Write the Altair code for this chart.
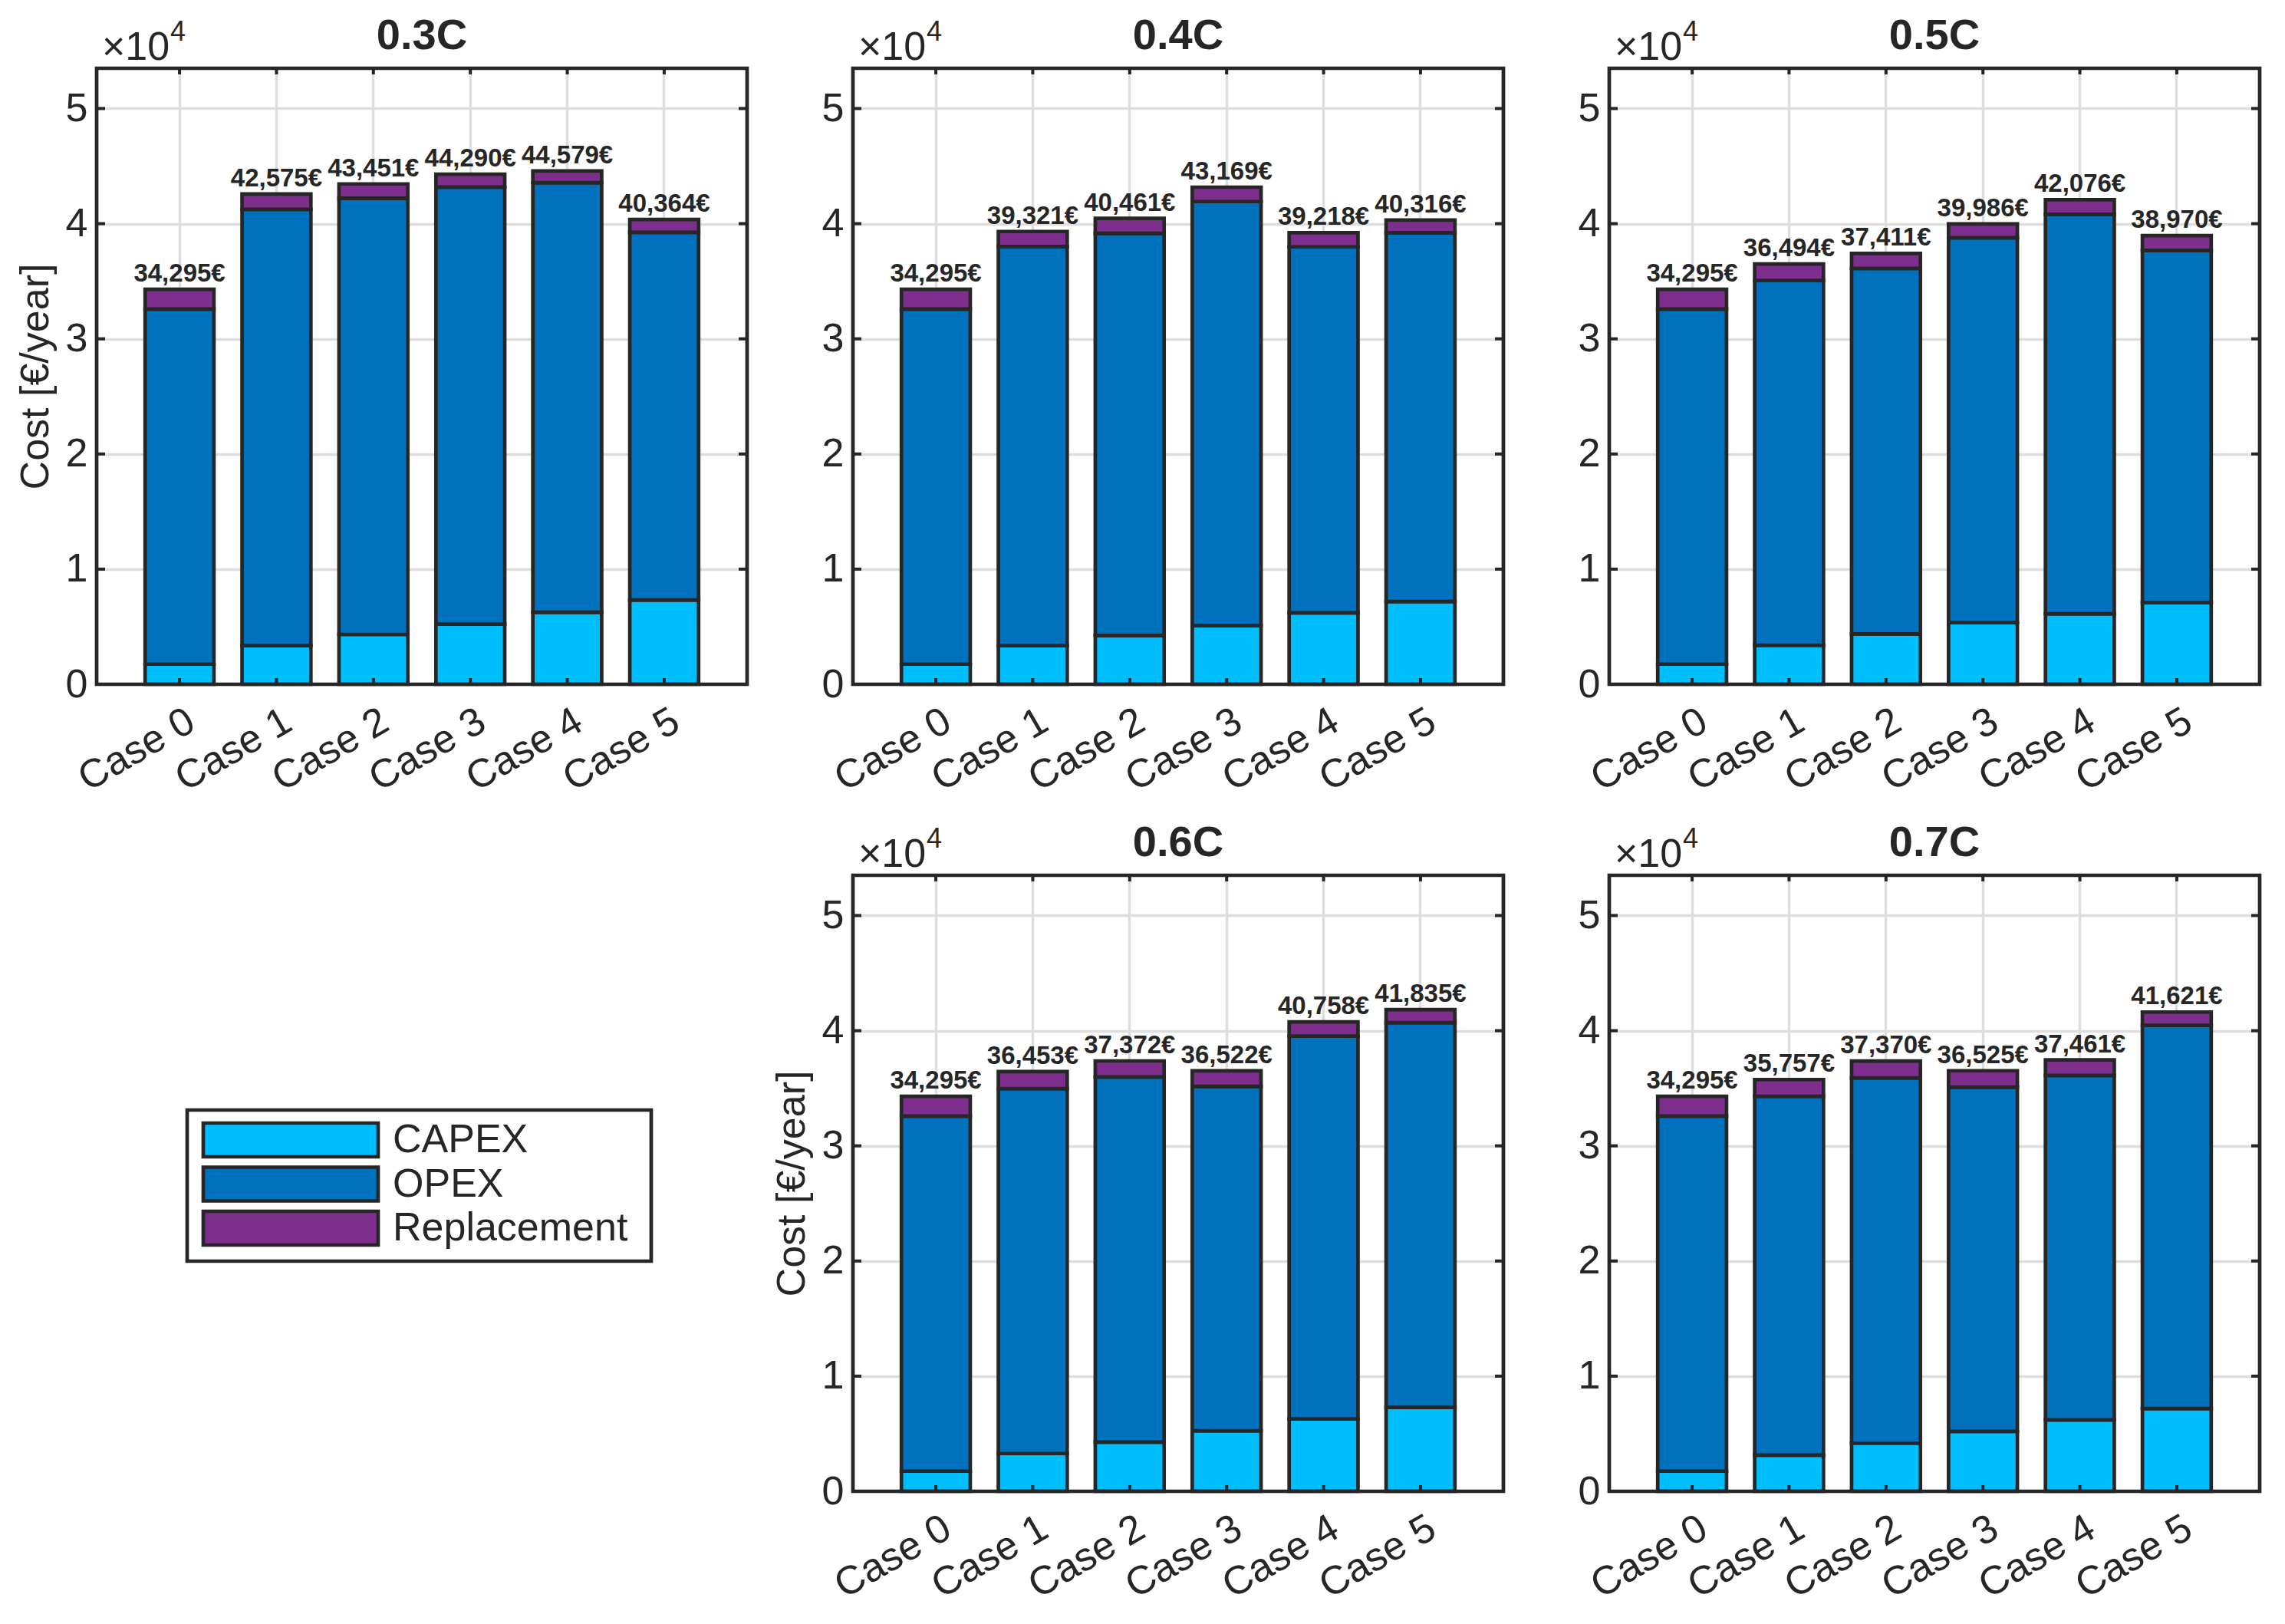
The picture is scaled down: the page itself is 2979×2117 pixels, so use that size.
import altair as alt
import pandas as pd

# ---------------- data ----------------
cases = ["Case 0", "Case 1", "Case 2", "Case 3", "Case 4", "Case 5"]
components = ["CAPEX", "OPEX", "Replacement"]
colors = ["#00BFFF", "#0072BD", "#7E2F8E"]
y_tick_values = [0, 10000, 20000, 30000, 40000, 50000]
y_max = 53495

titles = ["0.3C", "0.4C", "0.5C", "0.6C", "0.7C"]

capex_03 = [1750, 3350, 4330, 5220, 6250, 7320]
opex_03 = [30835, 37892, 37877, 37959, 37307, 31933]
repl_03 = [1710, 1333, 1244, 1111, 1022, 1111]
total_03 = [34295, 42575, 43451, 44290, 44579, 40364]

capex_04 = [1750, 3350, 4240, 5090, 6200, 7190]
opex_04 = [30835, 34671, 34921, 36829, 31788, 32026]
repl_04 = [1710, 1300, 1300, 1250, 1230, 1100]
total_04 = [34295, 39321, 40461, 43169, 39218, 40316]

capex_05 = [1750, 3390, 4375, 5360, 6120, 7100]
opex_05 = [30835, 31684, 31746, 33426, 34696, 30580]
repl_05 = [1710, 1420, 1290, 1200, 1260, 1290]
total_05 = [34295, 36494, 37411, 39986, 42076, 38970]

capex_06 = [1750, 3280, 4270, 5260, 6290, 7280]
opex_06 = [30835, 31693, 31712, 29912, 33238, 33415]
repl_06 = [1710, 1480, 1390, 1350, 1230, 1140]
total_06 = [34295, 36453, 37372, 36522, 40758, 41835]

capex_07 = [1750, 3140, 4180, 5210, 6200, 7190]
opex_07 = [30835, 31167, 31720, 29885, 29921, 33281]
repl_07 = [1710, 1450, 1470, 1430, 1340, 1150]
total_07 = [34295, 35757, 37370, 36525, 37461, 41621]

# ---------------- styling ----------------
W, H = 848, 803
FONT = "Liberation Sans"
DARK = "#262626"
GRID = "#DEDEDE"
EDGE = 4.7

x_scale = alt.Scale(domain=cases, paddingInner=0.29, paddingOuter=0.5)
y_scale = alt.Scale(domain=[0, y_max], nice=False, zero=True)
color_scale = alt.Scale(domain=components, range=colors)
no_view = alt.ViewBackground(strokeOpacity=0, strokeWidth=0)


def x_axis():
    return alt.Axis(title=None, labelAngle=330, labelFontSize=52, labelFont=FONT,
                    labelColor=DARK, labelAlign="right", labelBaseline="top",
                    labelPadding=22, labelOffset=3, ticks=False, domain=False,
                    grid=True, gridColor=GRID, gridWidth=3.5)


def y_axis(show_title):
    kw = dict(values=y_tick_values, labelExpr="datum.value / 10000", labelFontSize=52,
              labelFont=FONT, labelColor=DARK, labelPadding=12, ticks=False,
              domain=False, grid=True, gridColor=GRID, gridWidth=3.5)
    if show_title:
        kw.update(title="Cost [€/year]", titleFontSize=52, titleFont=FONT,
                  titleFontWeight="normal", titleColor=DARK, titlePadding=12)
    else:
        kw.update(title=None)
    return alt.Axis(**kw)


def make_panel(title, capex, opex, repl, total, show_title):
    rows = []
    for i, c in enumerate(cases):
        for k, (comp, vals) in enumerate(zip(components, [capex, opex, repl])):
            rows.append({"Case": c, "Component": comp, "Value": vals[i], "ord": k})
    df = pd.DataFrame(rows)
    df_tot = pd.DataFrame({"Case": cases, "Total": total,
                           "Label": [f"{v:,}€" for v in total]})
    df_yt = pd.DataFrame({"v": y_tick_values})
    df_x = pd.DataFrame({"Case": cases})
    df_one = pd.DataFrame({"t": ["×10"], "s": ["4"], "title": [title]})

    X = alt.X("Case:N", sort=cases, scale=x_scale, axis=x_axis())
    ya = y_axis(show_title)

    bars = alt.Chart(df).mark_bar(stroke=DARK, strokeWidth=EDGE).encode(
        x=X,
        y=alt.Y("Value:Q", stack="zero", scale=y_scale, axis=ya),
        color=alt.Color("Component:N", scale=color_scale, legend=None),
        order=alt.Order("ord:Q"),
    )
    yt_left = alt.Chart(df_yt).mark_rule(color=DARK, strokeWidth=4).encode(
        y=alt.Y("v:Q", scale=y_scale, axis=ya), x=alt.value(0), x2=alt.value(11))
    yt_right = alt.Chart(df_yt).mark_rule(color=DARK, strokeWidth=4).encode(
        y=alt.Y("v:Q", scale=y_scale, axis=ya), x=alt.value(W - 11), x2=alt.value(W))
    xt_bot = alt.Chart(df_x).mark_rule(color=DARK, strokeWidth=4).encode(
        x=X, y=alt.value(H), y2=alt.value(H - 8))
    xt_top = alt.Chart(df_x).mark_rule(color=DARK, strokeWidth=4).encode(
        x=X, y=alt.value(0), y2=alt.value(8))
    frame = alt.Chart(df_one).mark_rect(fillOpacity=0, stroke=DARK, strokeWidth=EDGE).encode(
        x=alt.value(0), x2=alt.value(W), y=alt.value(0), y2=alt.value(H))
    labels = alt.Chart(df_tot).mark_text(baseline="alphabetic", dy=-10, fontSize=33,
                                         fontWeight="bold", font=FONT, color=DARK).encode(
        x=X, y=alt.Y("Total:Q", scale=y_scale, axis=ya), text="Label:N")
    x10 = alt.Chart(df_one).mark_text(align="left", baseline="alphabetic", fontSize=52,
                                      font=FONT, color=DARK).encode(
        x=alt.value(7), y=alt.value(-11), text="t:N")
    sup = alt.Chart(df_one).mark_text(align="left", baseline="alphabetic", fontSize=36,
                                      font=FONT, color=DARK).encode(
        x=alt.value(96), y=alt.value(-36), text="s:N")
    ttl = alt.Chart(df_one).mark_text(align="center", baseline="alphabetic", fontSize=56,
                                      fontWeight="bold", font=FONT, color=DARK).encode(
        x=alt.value(W / 2), y=alt.value(-25), text="title:N")

    return alt.layer(bars, yt_left, yt_right, xt_bot, xt_top, frame, labels,
                     x10, sup, ttl).properties(width=W, height=H, view=no_view)


def make_legend():
    df_leg = pd.DataFrame({"Component": components})
    df_one = pd.DataFrame({"t": [""]})
    Y = alt.Y("Component:N", sort=components,
              scale=alt.Scale(domain=components, range=[323, 482],
                              paddingInner=0.235, paddingOuter=0),
              axis=None)
    box = alt.Chart(df_one).mark_rect(fill="white", stroke=DARK, strokeWidth=EDGE).encode(
        x=alt.value(118), x2=alt.value(723), y=alt.value(306), y2=alt.value(503))
    sw = alt.Chart(df_leg).mark_rect(stroke=DARK, strokeWidth=EDGE).encode(
        x=alt.value(139), x2=alt.value(367), y=Y,
        color=alt.Color("Component:N", scale=color_scale, legend=None))
    tx = alt.Chart(df_leg).mark_text(align="left", baseline="middle", fontSize=52,
                                     font=FONT, color=DARK).encode(
        x=alt.value(386), y=Y, text="Component:N")
    return alt.layer(box, sw, tx).properties(width=W, height=H, view=no_view)


data_sets = [
    (capex_03, opex_03, repl_03, total_03),
    (capex_04, opex_04, repl_04, total_04),
    (capex_05, opex_05, repl_05, total_05),
    (capex_06, opex_06, repl_06, total_06),
    (capex_07, opex_07, repl_07, total_07),
]
show = [True, False, False, True, False]
panels = [make_panel(t, *d, s) for t, d, s in zip(titles, data_sets, show)]

chart = alt.concat(
    panels[0], panels[1], panels[2], make_legend(), panels[3], panels[4],
    columns=3, spacing={"row": 249, "column": 138}, bounds="flush",
).properties(
    padding={"left": 12, "top": 11, "right": 5, "bottom": 5},
).configure_view(strokeOpacity=0, strokeWidth=0).configure(font=FONT, background="white")

chart.save("out.html", embed_options={"renderer": "svg", "actions": False})
